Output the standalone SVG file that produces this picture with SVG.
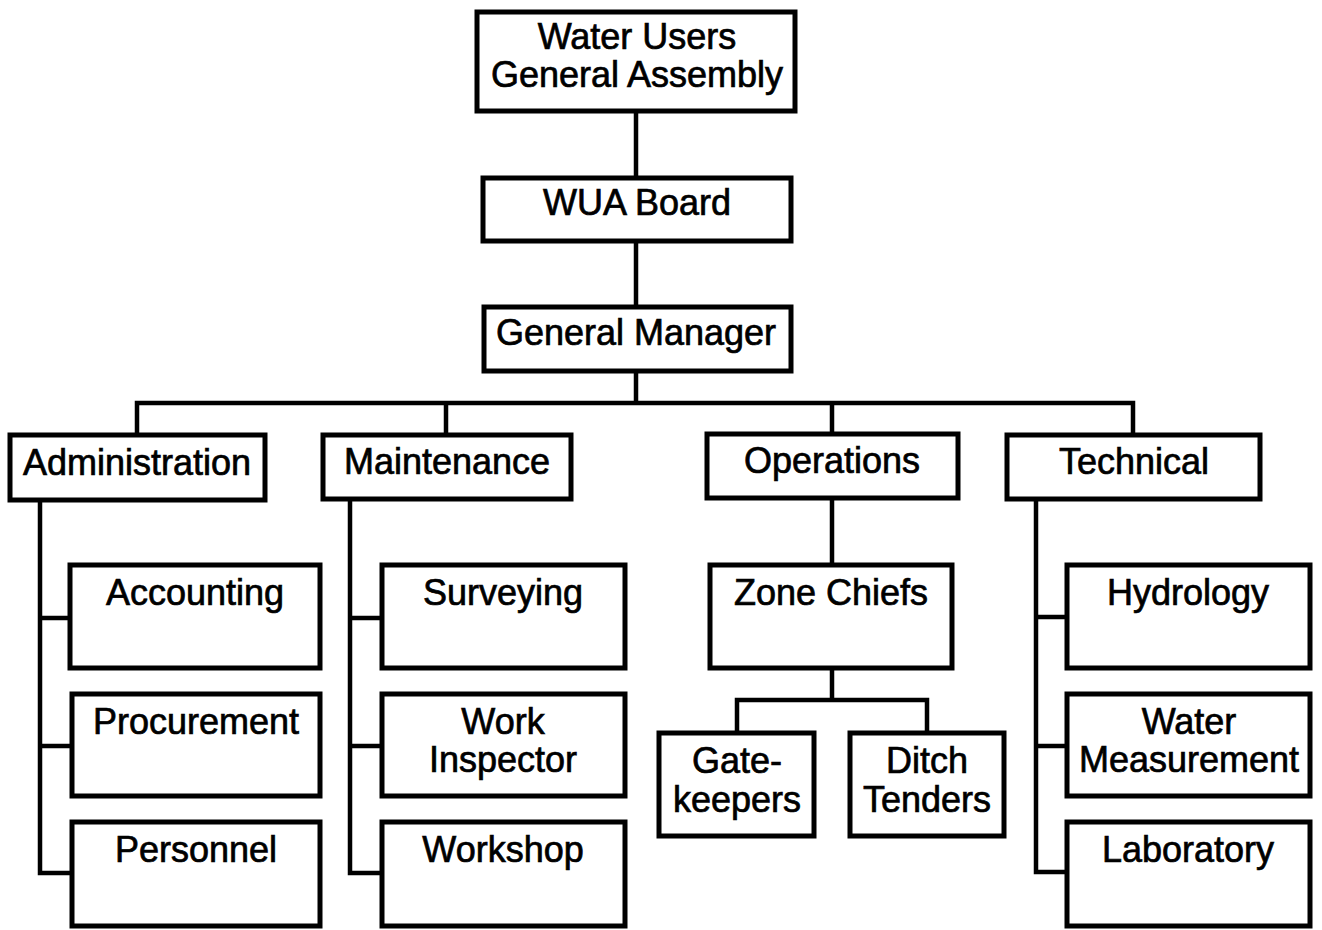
<svg xmlns="http://www.w3.org/2000/svg" width="1322" height="930" viewBox="0 0 1322 930">
<style>
.box{fill:#fff;stroke:#000;stroke-width:5}
.ln{fill:none;stroke:#000;stroke-width:4.5;stroke-linejoin:miter}
text{font-family:"Liberation Sans",Arial,sans-serif;font-size:36px;fill:#000;stroke:#000;stroke-width:0.7;text-anchor:middle}
</style>
<rect width="1322" height="930" fill="#fff"/>
<g id="connectors">
<path class="ln" d="M636 111V178M636 241V307M636 371V403"/>
<path class="ln" d="M137 435V403H1133V435M446 403V435M832 403V434"/>
<path class="ln" d="M40 500V873H72M40 618H70M40 746H72"/>
<path class="ln" d="M350 499V873H382M350 618H382M350 746H382"/>
<path class="ln" d="M832 498V565M832 668V700M737 733V700H927V733"/>
<path class="ln" d="M1036 499V872H1067M1036 617H1067M1036 746H1067"/>
</g>
<g id="general-assembly"><rect class="box" x="477" y="12" width="318" height="99"/><text x="637" y="49">Water Users</text><text x="637" y="87">General Assembly</text></g>
<g id="wua-board"><rect class="box" x="483" y="178" width="308" height="63"/><text x="637" y="215">WUA Board</text></g>
<g id="general-manager"><rect class="box" x="484" y="307" width="307" height="64"/><text x="636" y="345">General Manager</text></g>
<g id="administration"><rect class="box" x="10" y="435" width="255" height="65"/><text x="137" y="475">Administration</text></g>
<g id="maintenance"><rect class="box" x="323" y="435" width="248" height="64"/><text x="447" y="474">Maintenance</text></g>
<g id="operations"><rect class="box" x="707" y="434" width="251" height="64"/><text x="832" y="473">Operations</text></g>
<g id="technical"><rect class="box" x="1007" y="435" width="253" height="64"/><text x="1134" y="474">Technical</text></g>
<g id="accounting"><rect class="box" x="70" y="565" width="250" height="103"/><text x="195" y="605">Accounting</text></g>
<g id="procurement"><rect class="box" x="72" y="694" width="248" height="102"/><text x="196" y="734">Procurement</text></g>
<g id="personnel"><rect class="box" x="72" y="822" width="248" height="104"/><text x="196" y="862">Personnel</text></g>
<g id="surveying"><rect class="box" x="382" y="565" width="243" height="103"/><text x="503" y="605">Surveying</text></g>
<g id="work-inspector"><rect class="box" x="382" y="694" width="243" height="102"/><text x="503" y="734">Work</text><text x="503" y="772">Inspector</text></g>
<g id="workshop"><rect class="box" x="382" y="822" width="243" height="104"/><text x="503" y="862">Workshop</text></g>
<g id="zone-chiefs"><rect class="box" x="710" y="565" width="242" height="103"/><text x="831" y="605">Zone Chiefs</text></g>
<g id="gatekeepers"><rect class="box" x="659" y="733" width="155" height="103"/><text x="737" y="773">Gate-</text><text x="737" y="812">keepers</text></g>
<g id="ditch-tenders"><rect class="box" x="850" y="733" width="154" height="103"/><text x="927" y="773">Ditch</text><text x="927" y="812">Tenders</text></g>
<g id="hydrology"><rect class="box" x="1067" y="565" width="243" height="103"/><text x="1188" y="605">Hydrology</text></g>
<g id="water-measurement"><rect class="box" x="1067" y="694" width="243" height="102"/><text x="1189" y="734">Water</text><text x="1189" y="772">Measurement</text></g>
<g id="laboratory"><rect class="box" x="1067" y="822" width="243" height="104"/><text x="1188" y="862">Laboratory</text></g>
</svg>
